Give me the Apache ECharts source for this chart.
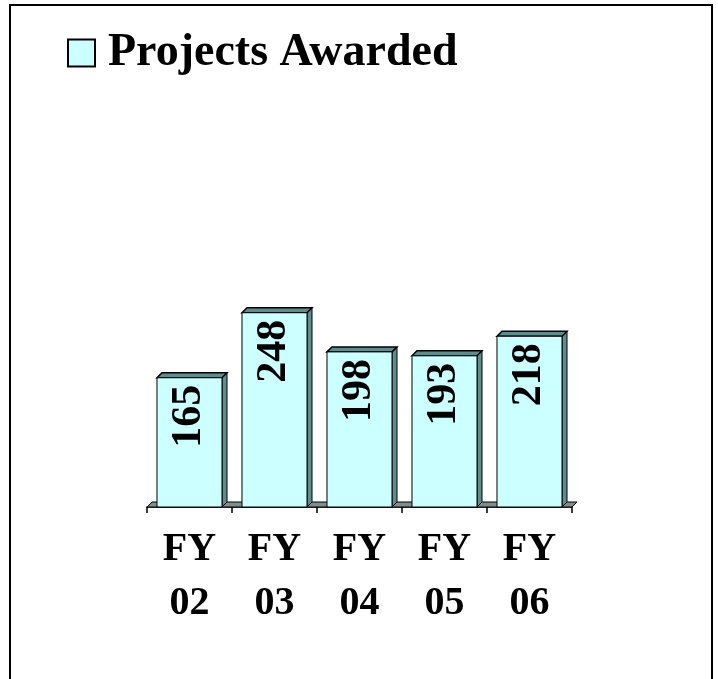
<!DOCTYPE html>
<html>
<head>
<meta charset="utf-8">
<script src="https://cdn.jsdelivr.net/npm/echarts@6/dist/echarts.min.js"></script>
<style>
  html, body { margin: 0; padding: 0; background: #fff; }
  #chart { width: 718px; height: 679px; }
</style>
</head>
<body>
<div id="chart"></div>
<script>
var categories = ['FY\n02', 'FY\n03', 'FY\n04', 'FY\n05', 'FY\n06'];
var awarded = [165, 248, 198, 193, 218];
var seriesName = 'Projects Awarded';

var FONT = '"Liberation Serif", "Times New Roman", serif';
var DEPTH = 5;
var FACE = '#CCFFFF';
var SIDE = '#5f8c8c';

var chart = echarts.init(document.getElementById('chart'));

// front face + top + right side, so the bars look like the old 3D columns
function renderBar(params, api) {
  var idx = api.value(0);
  var top = api.coord([idx, api.value(1)]);
  var base = api.coord([idx, 0]);
  var w = api.size([1, 0])[0] * 0.765;
  var x0 = top[0] - w / 2, x1 = top[0] + w / 2;
  var yt = top[1], yb = base[1];
  var d = DEPTH;
  return {
    type: 'group',
    children: [
      {
        type: 'polygon',
        shape: { points: [[x1, yt], [x1 + d, yt - d], [x1 + d, yb - d], [x1, yb]] },
        style: { fill: SIDE, stroke: '#000', lineWidth: 1 }
      },
      {
        type: 'polygon',
        shape: { points: [[x0, yt], [x0 + d, yt - d], [x1 + d, yt - d], [x1, yt]] },
        style: { fill: SIDE, stroke: '#000', lineWidth: 1.5 }
      },
      {
        type: 'rect',
        shape: { x: x0, y: yt, width: w, height: yb - yt },
        style: { fill: FACE, stroke: '#000', lineWidth: 1 }
      },
      {
        type: 'text',
        x: top[0],
        y: yt + 7,
        rotation: Math.PI / 2,
        style: {
          text: String(api.value(1)),
          align: 'right',
          verticalAlign: 'middle',
          font: 'bold 42px ' + FONT,
          fill: '#000'
        }
      }
    ]
  };
}

// thin floor plate under the bars
function renderFloor(params, api) {
  var cs = params.coordSys;
  var yb = cs.y + cs.height;
  var xl = cs.x, xr = cs.x + cs.width;
  var d = DEPTH;
  return {
    type: 'polygon',
    shape: { points: [[xl, yb], [xl + d, yb - d], [xr + d, yb - d], [xr, yb]] },
    style: { fill: '#7f8f8f', stroke: '#000', lineWidth: 1 }
  };
}

var option = {
  animation: false,
  backgroundColor: '#fff',
  legend: {
    left: 62,
    top: 25,
    itemWidth: 27,
    itemHeight: 27,
    icon: 'rect',
    data: [seriesName],
    textStyle: {
      fontFamily: FONT,
      fontWeight: 'bold',
      fontSize: 46,
      color: '#000',
      padding: [0, 0, 0, 8]
    }
  },
  grid: {
    left: 147,
    right: 146,
    top: 272,
    bottom: 172
  },
  xAxis: {
    type: 'category',
    data: categories,
    axisLine: { lineStyle: { color: '#000', width: 1.5 } },
    axisTick: { show: true, length: 6, lineStyle: { color: '#000', width: 1.5 } },
    axisLabel: {
      margin: 16,
      color: '#000',
      fontFamily: FONT,
      fontWeight: 'bold',
      fontSize: 40,
      lineHeight: 54
    }
  },
  yAxis: {
    type: 'value',
    min: 0,
    max: 300,
    show: false
  },
  graphic: [{
    type: 'rect',
    shape: { x: 10, y: 5, width: 702, height: 700 },
    style: { fill: 'none', stroke: '#000', lineWidth: 2 },
    silent: true
  }],
  series: [
    {
      type: 'custom',
      name: 'floor',
      renderItem: renderFloor,
      data: [[0, 0]],
      z: 1,
      silent: true
    },
    {
      type: 'custom',
      name: seriesName,
      renderItem: renderBar,
      itemStyle: { color: FACE, borderColor: '#000', borderWidth: 1 },
      encode: { x: 0, y: 1 },
      data: awarded.map(function (v, i) { return [i, v]; }),
      z: 2
    }
  ]
};

chart.setOption(option);
</script>
</body>
</html>
